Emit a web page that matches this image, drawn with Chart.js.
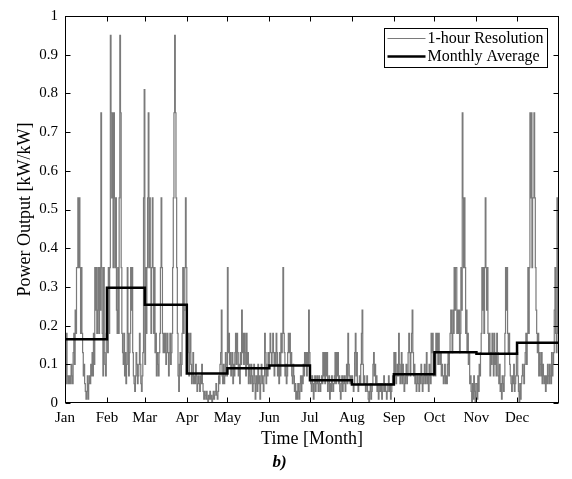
<!DOCTYPE html>
<html>
<head>
<meta charset="utf-8">
<script src="https://cdn.jsdelivr.net/npm/chart.js@4.4.1/dist/chart.umd.min.js"></script>
<style>
  html, body { margin: 0; padding: 0; background: #fff; }
  #powerChart { display: block; }
</style>
</head>
<body>
<canvas id="powerChart" width="572" height="479"></canvas>
<script>
// power output, half-day steps, one array per month (kW/kW)
const jan = [0.07,0.05,0.18,0.07,0.05,0.07, 0.05,0.07,0.05,0.1,0.07,0.05, 0.13,0.18,0.1,0.24,0.18,0.35,
  0.35,0.53,0.35,0.53,0.35,0.18, 0.35,0.18,0.13,0.07,0.1,0.05, 0.03,0.01,0.03,0.07,0.01,0.05,
  0.07,0.05,0.1,0.07,0.13,0.07, 0.18,0.1,0.35,0.24,0.35,0.18, 0.24,0.35,0.18,0.35,0.24,0.75,
  0.35,0.18,0.07,0.35,0.13,0.1, 0.07,0.18];
const feb = [0.18,0.13,0.35,0.18,0.35,0.95, 0.75,0.53,0.75,0.35,0.75,0.53, 0.35,0.53,0.24,0.18,0.35,0.18,
  0.53,0.95,0.75,0.35,0.18,0.13, 0.1,0.18,0.07,0.13,0.05,0.1, 0.35,0.18,0.07,0.13,0.18,0.35,
  0.24,0.35,0.13,0.07,0.05,0.03, 0.07,0.13,0.1,0.05,0.07,0.1, 0.18,0.1,0.05,0.03,0.07,0.13,
  0.53,0.81];
const mar = [0.1,0.35,0.18,0.35,0.53,0.75, 0.35,0.53,0.35,0.18,0.35,0.53, 0.35,0.18,0.35,0.13,0.18,0.07,
  0.13,0.1,0.07,0.13,0.18,0.35, 0.53,0.35,0.18,0.13,0.18,0.13, 0.18,0.1,0.13,0.18,0.13,0.07,
  0.13,0.18,0.1,0.13,0.18,0.35, 0.53,0.75,0.95,0.75,0.53,0.35, 0.18,0.07,0.03,0.1,0.13,0.07,
  0.1,0.18,0.35,0.18,0.24,0.35, 0.53,0.35];
const apr = [0.18,0.13,0.18,0.07,0.13,0.18, 0.1,0.05,0.07,0.13,0.05,0.07, 0.05,0.1,0.07,0.03,0.05,0.07,
  0.05,0.03,0.07,0.05,0.1,0.05, 0.03,0.01,0.03,0.02,0.01,0.03, 0.01,0.0,0.02,0.01,0.03,0.01,
  0.02,0.0,0.01,0.03,0.01,0.02, 0.03,0.05,0.02,0.01,0.03,0.07, 0.05,0.1,0.13,0.24,0.07,0.05,
  0.1,0.05,0.07,0.13,0.1,0.07];
const may = [0.35,0.13,0.18,0.1,0.13,0.07, 0.1,0.13,0.05,0.1,0.07,0.13, 0.18,0.1,0.18,0.13,0.07,0.1,
  0.05,0.13,0.1,0.24,0.13,0.18, 0.1,0.18,0.13,0.07,0.18,0.1, 0.13,0.05,0.1,0.07,0.05,0.1,
  0.07,0.03,0.05,0.1,0.07,0.01, 0.05,0.07,0.03,0.1,0.05,0.07, 0.01,0.05,0.1,0.07,0.05,0.03,
  0.07,0.18,0.13,0.05,0.1,0.07, 0.13,0.1];
const jun = [0.13,0.18,0.13,0.1,0.13,0.18, 0.13,0.07,0.13,0.1,0.18,0.13, 0.07,0.1,0.05,0.13,0.07,0.18,
  0.13,0.18,0.35,0.18,0.13,0.07, 0.1,0.05,0.07,0.13,0.18,0.13, 0.18,0.1,0.13,0.07,0.05,0.1,
  0.07,0.03,0.05,0.01,0.03,0.01, 0.05,0.03,0.01,0.05,0.07,0.03, 0.07,0.05,0.1,0.07,0.13,0.1,
  0.13,0.07,0.13,0.1,0.24,0.13];
const jul = [0.07,0.05,0.03,0.07,0.05,0.01, 0.05,0.07,0.03,0.05,0.07,0.05, 0.03,0.07,0.05,0.03,0.05,0.07,
  0.05,0.13,0.07,0.13,0.05,0.13, 0.07,0.13,0.03,0.05,0.07,0.01, 0.05,0.03,0.07,0.05,0.03,0.05,
  0.07,0.13,0.05,0.13,0.07,0.13, 0.05,0.07,0.03,0.01,0.05,0.07, 0.03,0.05,0.07,0.05,0.03,0.07,
  0.1,0.05,0.18,0.1,0.07,0.05, 0.07,0.05];
const aug = [0.07,0.05,0.03,0.05,0.13,0.18, 0.07,0.13,0.05,0.03,0.05,0.07, 0.05,0.1,0.18,0.24,0.1,0.05,
  0.07,0.05,0.03,0.05,0.07,0.03, 0.01,0.0,0.03,0.05,0.01,0.03, 0.05,0.1,0.13,0.07,0.1,0.05,
  0.07,0.03,0.05,0.01,0.03,0.05, 0.03,0.05,0.01,0.03,0.05,0.07, 0.03,0.05,0.03,0.01,0.03,0.05,
  0.07,0.03,0.05,0.01,0.03,0.05, 0.07,0.05];
const sep = [0.13,0.07,0.13,0.05,0.07,0.1, 0.07,0.18,0.1,0.05,0.07,0.13, 0.05,0.1,0.07,0.03,0.05,0.07,
  0.1,0.05,0.07,0.13,0.18,0.13, 0.07,0.13,0.18,0.24,0.13,0.07, 0.1,0.05,0.07,0.03,0.05,0.07,
  0.05,0.03,0.07,0.05,0.1,0.07, 0.03,0.05,0.07,0.1,0.05,0.07, 0.13,0.05,0.07,0.03,0.1,0.07,
  0.05,0.18,0.13,0.18,0.07,0.13];
const oct = [0.13,0.07,0.18,0.13,0.18,0.1, 0.18,0.13,0.1,0.13,0.07,0.1, 0.07,0.05,0.07,0.1,0.05,0.07,
  0.05,0.1,0.13,0.07,0.13,0.18, 0.24,0.18,0.13,0.24,0.18,0.35, 0.24,0.35,0.35,0.18,0.24,0.18,
  0.24,0.13,0.18,0.35,0.24,0.75, 0.53,0.35,0.53,0.35,0.18,0.24, 0.13,0.18,0.1,0.13,0.05,0.07,
  0.03,0.0,0.05,0.01,0.07,0.03, 0.0,0.05];
const nov = [0.05,0.01,0.07,0.03,0.1,0.07, 0.13,0.18,0.35,0.24,0.35,0.18, 0.35,0.53,0.35,0.24,0.35,0.18,
  0.13,0.18,0.07,0.13,0.1,0.18, 0.13,0.07,0.18,0.1,0.13,0.07, 0.18,0.13,0.07,0.05,0.1,0.03,
  0.05,0.01,0.07,0.05,0.03,0.07, 0.18,0.35,0.24,0.35,0.18,0.13, 0.18,0.1,0.07,0.05,0.03,0.07,
  0.05,0.1,0.03,0.05,0.07,0.13];
const dec = [0.13,0.07,0.03,0.0,0.05,0.01, 0.05,0.07,0.1,0.07,0.05,0.1, 0.13,0.18,0.1,0.18,0.35,0.18,
  0.35,0.75,0.53,0.75,0.35,0.53, 0.53,0.75,0.53,0.35,0.24,0.18, 0.13,0.18,0.07,0.13,0.1,0.07,
  0.13,0.05,0.1,0.07,0.05,0.07, 0.03,0.07,0.05,0.1,0.07,0.05, 0.1,0.07,0.05,0.13,0.07,0.1,
  0.13,0.24,0.35,0.18,0.13,0.53, 0.18,0.53];

const monthNames = ["Jan", "Feb", "Mar", "Apr", "May", "Jun", "Jul", "Aug", "Sep", "Oct", "Nov", "Dec"];
const monthStart = [0, 31, 59, 90, 120, 151, 181, 212, 243, 273, 304, 334];
const monthlyAvg = [0.165, 0.298, 0.254, 0.076, 0.09, 0.097, 0.059, 0.048, 0.074, 0.131, 0.127, 0.156];
const yearEnd = 365;
const stepDays = 0.5;

const serif = "'Liberation Serif', 'Times New Roman', serif";

// hourly series as step points (day of year, value)
const hourly = [jan, feb, mar, apr, may, jun, jul, aug, sep, oct, nov, dec].flat()
  .map((v, i) => ({ x: i * stepDays, y: v }));
hourly.push({ x: yearEnd, y: hourly[hourly.length - 1].y });

const average = monthStart.map((d, i) => ({ x: d, y: monthlyAvg[i] }));
average.push({ x: yearEnd, y: monthlyAvg[monthlyAvg.length - 1] });

// box around the plot with inward ticks on all four sides
const boxTicks = {
  id: "boxTicks",
  afterDatasetsDraw(chart) {
    const { ctx, chartArea: a, scales: { x, y } } = chart;
    const len = 5;
    ctx.save();
    ctx.strokeStyle = "#000";
    ctx.lineWidth = 1;
    const l = Math.round(a.left) + 0.5, r = Math.round(a.right) - 0.5;
    const t = Math.round(a.top) + 0.5, b = Math.round(a.bottom) - 0.5;
    ctx.strokeRect(l, t, r - l, b - t);
    ctx.beginPath();
    x.ticks.forEach(tk => {
      const px = Math.round(x.getPixelForValue(tk.value)) + 0.5;
      ctx.moveTo(px, b); ctx.lineTo(px, b - len);
      ctx.moveTo(px, t); ctx.lineTo(px, t + len);
    });
    y.ticks.forEach(tk => {
      const py = Math.round(y.getPixelForValue(tk.value)) + 0.5;
      ctx.moveTo(l, py); ctx.lineTo(l + len, py);
      ctx.moveTo(r, py); ctx.lineTo(r - len, py);
    });
    ctx.stroke();
    ctx.restore();
  }
};

// framed legend in the top right corner of the plot
const boxLegend = {
  id: "boxLegend",
  afterDraw(chart) {
    const { ctx, chartArea: a } = chart;
    const w = 163, h = 39;
    const bx = Math.round(a.right) - 175 + 0.5, by = Math.round(a.top) + 12 + 0.5;
    ctx.save();
    ctx.fillStyle = "#fff";
    ctx.fillRect(bx, by, w, h);
    ctx.strokeStyle = "#000";
    ctx.lineWidth = 1;
    ctx.strokeRect(bx, by, w, h);
    ctx.font = "16px " + serif;
    ctx.textBaseline = "middle";
    ctx.fillStyle = "#000";
    chart.data.datasets.forEach((ds, i) => {
      const ly = by + 10 + i * 18;
      ctx.beginPath();
      ctx.strokeStyle = ds.borderColor;
      ctx.lineWidth = ds.borderWidth;
      ctx.moveTo(bx + 3, ly);
      ctx.lineTo(bx + 41, ly);
      ctx.stroke();
      ctx.fillText(ds.label, bx + 43, ly);
    });
    ctx.restore();
  }
};

new Chart(document.getElementById("powerChart"), {
  type: "line",
  data: {
    datasets: [
      {
        label: "1-hour Resolution",
        data: hourly,
        borderColor: "#7a7a7a",
        borderWidth: 1.2,
        stepped: true,
        pointRadius: 0,
        order: 1
      },
      {
        label: "Monthly Average",
        data: average,
        borderColor: "#000000",
        borderWidth: 2.5,
        stepped: true,
        pointRadius: 0,
        order: 0
      }
    ]
  },
  options: {
    responsive: false,
    animation: false,
    events: [],
    layout: { padding: { top: 11, right: 13, left: 0, bottom: 0 } },
    plugins: {
      legend: { display: false },
      tooltip: { enabled: false },
      title: {
        display: true,
        position: "bottom",
        text: "b)",
        color: "#000",
        font: { family: serif, size: 17, style: "italic", weight: "bold" },
        padding: { top: 0, bottom: 6 }
      }
    },
    scales: {
      x: {
        type: "linear",
        min: 0,
        max: yearEnd,
        afterBuildTicks: scale => {
          scale.ticks = monthStart.map(v => ({ value: v }));
        },
        afterFit: scale => { scale.height = 49.6; },
        grid: { display: false, drawTicks: false },
        border: { display: false },
        ticks: {
          autoSkip: false,
          maxRotation: 0,
          padding: 6,
          color: "#000",
          font: { family: serif, size: 15 },
          callback: (v, i) => monthNames[i]
        },
        title: {
          display: true,
          text: "Time [Month]",
          color: "#000",
          font: { family: serif, size: 18 },
          padding: { top: 0, bottom: 3 }
        }
      },
      y: {
        min: 0,
        max: 1,
        afterFit: scale => { scale.width = 65; },
        grid: { display: false, drawTicks: false },
        border: { display: false },
        ticks: {
          stepSize: 0.1,
          padding: 7,
          color: "#000",
          font: { family: serif, size: 15 },
          callback: v => String(Number(v.toFixed(1)))
        },
        title: {
          display: true,
          text: "Power Output [kW/kW]",
          color: "#000",
          font: { family: serif, size: 18 },
          padding: { top: 14, bottom: 0 }
        }
      }
    }
  },
  plugins: [boxTicks, boxLegend]
});
</script>
</body>
</html>
